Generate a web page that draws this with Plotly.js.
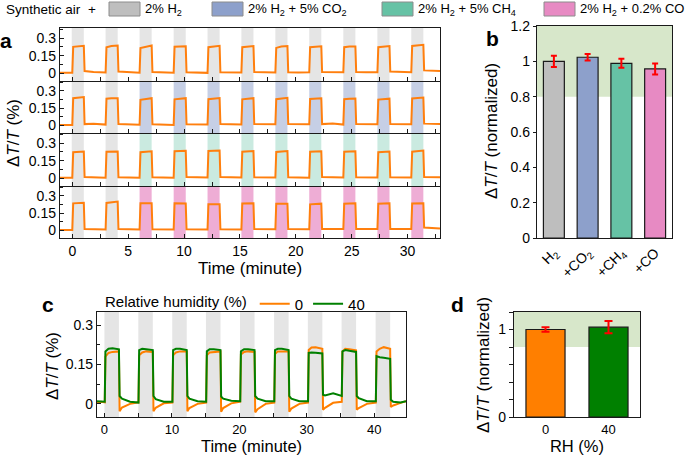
<!DOCTYPE html>
<html>
<head>
<meta charset="utf-8">
<script src="https://cdn.plot.ly/plotly-3.0.1.min.js"></script>
<style>
  html, body { margin:0; padding:0; background:#fff; }
  #fig { width:685px; height:455px; }
</style>
</head>
<body>
<div id="fig"></div>
<script>
/* gas sensor figure: pulse traces (a, c) + normalized response bars (b, d) */

const W = 685, H = 455;
const FONT = 'Liberation Sans, Arial, sans-serif';

// gases (legend + panel b)
const gasNames  = ['2% H<sub>2</sub>', '2% H<sub>2</sub> + 5% CO<sub>2</sub>',
                   '2% H<sub>2</sub> + 5% CH<sub>4</sub>', '2% H<sub>2</sub> + 0.2% CO'];
const gasColors = ['#bebebe', '#8da0cb', '#66c2a5', '#e78ac3'];
const bandFills = ['rgba(190,190,190,0.4)', 'rgba(141,160,203,0.5)',
                   'rgba(102,194,165,0.35)', 'rgba(231,138,195,0.7)'];

// panel b
const bLabels = ['H<sub>2</sub>', '+CO<sub>2</sub>', '+CH<sub>4</sub>', '+CO'];
const bValues = [1.0, 1.023, 0.989, 0.957];
const bErrors = [0.032, 0.018, 0.025, 0.031];

// panel d
const dLabels = ['0', '40'];
const dValues = [1.0, 1.026];
const dErrors = [0.025, 0.07];
const dColors = ['#ff7f00', '#008000'];

// panel a: gas exposure windows (minute)
const aPulseStart = [-0.05, 2.98, 6.02, 9.07, 12.10, 15.13, 18.17, 21.20, 24.25, 27.30, 30.33];
const aPulseWidth = 1.08;

// panel a: response traces, one per gas row
const aTime = [
  -1.1, -0.5,
  0.0, 0.08, 0.55, 1.03, 1.10, 1.9,
  2.98, 3.06, 3.5, 4.06, 4.13, 5.0,
  6.02, 6.10, 6.55, 7.10, 7.17, 8.0,
  9.07, 9.15, 9.6, 10.15, 10.22, 11.1,
  12.10, 12.18, 12.6, 13.18, 13.25, 14.1,
  15.13, 15.21, 15.7, 16.21, 16.28, 17.2,
  18.17, 18.25, 18.7, 19.25, 19.32, 20.2,
  21.20, 21.28, 21.7, 22.28, 22.35, 23.3,
  24.25, 24.33, 24.8, 25.33, 25.40, 26.3,
  27.30, 27.38, 27.8, 28.38, 28.45, 29.4,
  30.33, 30.41, 30.9, 31.41, 31.48, 32.3,
  32.9];
const aRow1 = [
  0.006, 0.005,
  0.005, 0.225, 0.232, 0.234, 0.02, 0.012,
  0.008, 0.222, 0.232, 0.236, 0.016, 0.01,
  0.006, 0.215, 0.226, 0.236, 0.012, 0.008,
  0.005, 0.226, 0.228, 0.229, 0.01, 0.008,
  0.004, 0.222, 0.228, 0.234, 0.01, 0.01,
  0.008, 0.222, 0.228, 0.232, 0.012, 0.01,
  0.008, 0.216, 0.228, 0.232, 0.01, 0.008,
  0.01, 0.222, 0.228, 0.23, 0.012, 0.01,
  0.01, 0.222, 0.228, 0.228, 0.012, 0.01,
  0.01, 0.222, 0.228, 0.232, 0.015, 0.012,
  0.01, 0.232, 0.238, 0.242, 0.025, 0.022,
  0.02];
const aRow2 = [
  0.005, 0.006,
  0.005, 0.236, 0.242, 0.246, 0.012, 0.015,
  0.008, 0.232, 0.236, 0.236, 0.012, 0.01,
  0.006, 0.222, 0.228, 0.236, 0.01, 0.008,
  0.004, 0.226, 0.232, 0.236, 0.01, 0.01,
  0.008, 0.228, 0.234, 0.238, 0.012, 0.01,
  0.008, 0.226, 0.232, 0.236, 0.012, 0.014,
  0.01, 0.228, 0.236, 0.24, 0.012, 0.012,
  0.01, 0.23, 0.234, 0.236, 0.012, 0.018,
  0.008, 0.228, 0.232, 0.234, 0.012, 0.01,
  0.01, 0.224, 0.23, 0.232, 0.012, 0.01,
  0.01, 0.234, 0.238, 0.242, 0.016, 0.014,
  0.012];
const aRow3 = [
  0.005, 0.005,
  0.005, 0.222, 0.226, 0.228, 0.012, 0.008,
  0.006, 0.226, 0.228, 0.228, 0.01, 0.008,
  0.005, 0.222, 0.228, 0.23, 0.01, 0.008,
  0.006, 0.23, 0.234, 0.234, 0.012, 0.01,
  0.008, 0.232, 0.234, 0.236, 0.012, 0.01,
  0.008, 0.226, 0.23, 0.232, 0.01, 0.01,
  0.008, 0.224, 0.228, 0.232, 0.01, 0.008,
  0.006, 0.226, 0.23, 0.23, 0.012, 0.01,
  0.008, 0.226, 0.23, 0.23, 0.01, 0.01,
  0.008, 0.222, 0.226, 0.228, 0.01, 0.008,
  0.008, 0.226, 0.232, 0.236, 0.012, 0.01,
  0.01];
const aRow4 = [
  0.005, 0.005,
  0.005, 0.235, 0.238, 0.24, 0.012, 0.01,
  0.008, 0.238, 0.244, 0.25, 0.012, 0.01,
  0.008, 0.236, 0.236, 0.236, 0.01, 0.01,
  0.008, 0.236, 0.236, 0.234, 0.01, 0.01,
  0.008, 0.226, 0.226, 0.226, 0.01, 0.01,
  0.008, 0.234, 0.236, 0.236, 0.012, 0.012,
  0.01, 0.232, 0.232, 0.232, 0.012, 0.012,
  0.01, 0.226, 0.23, 0.232, 0.012, 0.012,
  0.012, 0.232, 0.236, 0.236, 0.012, 0.012,
  0.012, 0.232, 0.234, 0.236, 0.012, 0.012,
  0.012, 0.234, 0.236, 0.236, 0.026, 0.022,
  0.018];

// panel c: H2 windows and traces at 0 % / 40 % RH
const cPulseStart = [0, 5.02, 10.05, 15.05, 20.1, 25.15, 30.15, 35.15, 40.2];
const cPulseWidth = 2.15;
const cTime = [
  -1.1, -0.5,
  0.05, 0.15, 0.6, 1.2, 2.15, 2.25, 2.6, 3.8,
  5.05, 5.15, 5.6, 6.2, 7.17, 7.27, 7.6, 8.8,
  10.08, 10.18, 10.6, 11.2, 12.2, 12.3, 12.6, 13.8,
  15.08, 15.18, 15.6, 16.2, 17.2, 17.3, 17.6, 18.8,
  20.13, 20.23, 20.7, 21.3, 22.25, 22.35, 22.7, 23.9,
  25.18, 25.28, 25.7, 26.3, 27.3, 27.4, 27.7, 28.9,
  30.18, 30.28, 30.7, 31.3, 32.3, 32.4, 32.7, 33.9,
  35.18, 35.28, 35.7, 36.3, 37.3, 37.4, 37.7, 38.9,
  40.23, 40.33, 40.8, 41.4, 42.35, 42.45, 42.8, 43.9,
  44.7];
const cRH0 = [
  0.005, 0.008,
  0.006, 0.18, 0.194, 0.198, 0.2, -0.028, -0.014, 0.0,
  0.006, 0.185, 0.196, 0.2, 0.198, -0.028, -0.015, 0.002,
  0.005, 0.185, 0.196, 0.2, 0.2, -0.028, -0.016, 0.0,
  0.005, 0.185, 0.196, 0.198, 0.2, -0.03, -0.016, 0.002,
  0.008, 0.188, 0.198, 0.2, 0.198, -0.032, -0.02, 0.0,
  0.005, 0.19, 0.2, 0.2, 0.2, -0.03, -0.018, 0.0,
  0.005, 0.205, 0.215, 0.216, 0.21, -0.022, -0.015, 0.004,
  0.008, 0.2, 0.21, 0.208, 0.204, -0.022, -0.016, 0.0,
  0.005, 0.2, 0.21, 0.216, 0.21, -0.012, -0.006, 0.004,
  0.01];
const cRH40 = [
  0.01, 0.008,
  0.008, 0.2, 0.21, 0.212, 0.208, 0.03, 0.02, 0.008,
  0.005, 0.205, 0.21, 0.208, 0.205, 0.03, 0.018, 0.008,
  0.008, 0.205, 0.21, 0.21, 0.205, 0.03, 0.02, 0.01,
  0.008, 0.2, 0.208, 0.208, 0.205, 0.028, 0.02, 0.012,
  0.01, 0.2, 0.208, 0.208, 0.205, 0.03, 0.02, 0.01,
  0.01, 0.205, 0.21, 0.21, 0.205, 0.03, 0.02, 0.01,
  0.01, 0.194, 0.196, 0.195, 0.192, 0.035, 0.032, 0.04,
  0.03, 0.2, 0.205, 0.202, 0.198, 0.03, 0.022, 0.01,
  0.01, 0.182, 0.178, 0.176, 0.172, 0.016, 0.008, 0.005,
  0.01];

const px = x => x / W;
const py = y => 1 - y / H;

const LINE = '#1a1a1a';
const axBase = { showline:true, linecolor:LINE, linewidth:1.2, mirror:true, showgrid:false,
                 zeroline:false, ticks:'inside', ticklen:4, tickcolor:LINE, tickwidth:1,
                 tickfont:{size:14}, fixedrange:true };
const TITLE = 17;

// ---- traces
const traces = [];
const aRows = [aRow1, aRow2, aRow3, aRow4];
aRows.forEach((row, i) => {
  const k = i === 0 ? '' : String(i + 1);
  traces.push({ x:aTime, y:row, type:'scatter', mode:'lines', xaxis:'x'+k, yaxis:'y'+k,
                line:{ color:'#ff7f0e', width:2 }, showlegend:false, hoverinfo:'skip' });
});

traces.push({ type:'bar', x:bLabels, y:bValues, xaxis:'x5', yaxis:'y5',
  marker:{ color:gasColors, line:{ color:LINE, width:1.2 } },
  error_y:{ type:'data', array:bErrors, color:'#ff0000', thickness:2, width:3 },
  showlegend:false });

traces.push({ x:cTime, y:cRH0, type:'scatter', mode:'lines', xaxis:'x6', yaxis:'y6',
  name:'0', line:{ color:'#ff7f00', width:2 } });
traces.push({ x:cTime, y:cRH40, type:'scatter', mode:'lines', xaxis:'x6', yaxis:'y6',
  name:'40', line:{ color:'#008000', width:2 } });

traces.push({ type:'bar', x:dLabels, y:dValues, xaxis:'x7', yaxis:'y7',
  marker:{ color:dColors, line:{ color:LINE, width:1.2 } },
  error_y:{ type:'data', array:dErrors, color:'#ff0000', thickness:2, width:4 },
  showlegend:false });

// ---- shapes: exposure bands, green tolerance zones, top legend swatches
const shapes = [];
aRows.forEach((row, r) => {
  const k = r === 0 ? '' : String(r + 1);
  aPulseStart.forEach((s, i) => {
    const g = (r === 0 || i < 2) ? 0 : r;
    shapes.push({ type:'rect', xref:'x'+k, yref:'y'+k+' domain', x0:s, x1:s + aPulseWidth,
                  y0:0, y1:1, fillcolor:bandFills[g], line:{ width:0 }, layer:'below' });
  });
});
cPulseStart.forEach(s => {
  shapes.push({ type:'rect', xref:'x6', yref:'y6 domain', x0:s, x1:s + cPulseWidth,
                y0:0, y1:1, fillcolor:bandFills[0], line:{ width:0 }, layer:'below' });
});
['5', '7'].forEach(k => {
  shapes.push({ type:'rect', xref:'x'+k+' domain', yref:'y'+k, x0:0, x1:1, y0:0.8, y1:1.2,
                fillcolor:'#d7e7ca', line:{ width:0 }, layer:'below' });
});

const legBoxX = [109, 212, 382, 544];
const legTextX = [143, 246, 416, 578];
legBoxX.forEach((x, i) => {
  shapes.push({ type:'rect', xref:'paper', yref:'paper', x0:px(x), x1:px(x + 31),
                y0:py(16), y1:py(2), fillcolor:gasColors[i], line:{ color:'#8c8c8c', width:1 } });
});

// ---- annotations
const ann = [];
const txt = (x, y, text, o) => ann.push(Object.assign({ xref:'paper', yref:'paper',
  x:px(x), y:py(y), text, showarrow:false, xanchor:'center', yanchor:'middle',
  font:{ size:13, color:'#000' } }, o || {}));

txt(4, 9, 'Synthetic air', { xanchor:'left', font:{ size:13.5 } });
txt(92, 9, '+', { font:{ size:13.5 } });
gasNames.forEach((g, i) => txt(legTextX[i], 9, g, { xanchor:'left' }));

const ttl = 'Δ<i>T</i>/<i>T</i>';
txt(13, 133, ttl + ' (%)', { textangle:-90, font:{ size:TITLE } });
txt(491, 131, ttl + ' (normalized)', { textangle:-90, font:{ size:TITLE } });
txt(52, 366, ttl + ' (%)', { textangle:-90, font:{ size:TITLE } });
txt(483, 365, ttl + ' (normalized)', { textangle:-90, font:{ size:TITLE } });

const bold = { font:{ size:21, color:'#000' } };
txt(6, 40, '<b>a</b>', bold);
txt(492, 38, '<b>b</b>', bold);
txt(48, 304, '<b>c</b>', bold);
txt(457, 304, '<b>d</b>', bold);

// ---- axes (row 1 draws its own top line; lower rows share the line above)
const aX = (k, first, last) => Object.assign({}, axBase, {
  domain:[px(60), px(440)], anchor:'y'+k, range:[-1.1, 32.9], tick0:0, dtick:5,
  mirror:first, minor:{ dtick:2.5, ticks:'inside', ticklen:4, tickcolor:LINE },
  showticklabels:last,
  title: last ? { text:'Time (minute)', font:{ size:TITLE }, standoff:3 } : undefined });
const aY = (k, top, bot) => Object.assign({}, axBase, {
  domain:[py(bot), py(top)], anchor:'x'+k, range:[-0.065, 0.385], tick0:0, dtick:0.15,
  minor:{ dtick:0.075, ticks:'inside', ticklen:3, tickcolor:LINE } });

const layout = {
  width:W, height:H, margin:{ l:0, r:0, t:0, b:0 },
  paper_bgcolor:'#fff', plot_bgcolor:'#fff',
  font:{ family:FONT, size:14, color:'#000' },
  bargap:0.38, showlegend:true,
  legend:{ orientation:'h', x:px(103), xanchor:'left', y:py(304), yanchor:'middle',
           title:{ text:'Relative humidity (%)', side:'left', font:{ size:15 } },
           font:{ size:15 }, bgcolor:'rgba(0,0,0,0)', itemwidth:30, tracegroupgap:0 },
  xaxis:aX('', true, false), xaxis2:aX('2', false, false),
  xaxis3:aX('3', false, false), xaxis4:aX('4', false, true),
  yaxis:aY('', 28, 81), yaxis2:aY('2', 81, 133), yaxis3:aY('3', 133, 186), yaxis4:aY('4', 186, 238),
  xaxis5:Object.assign({}, axBase, { domain:[px(537), px(672)], anchor:'y5', type:'category',
           range:[-0.5, 3.5], ticks:'', tickangle:-45 }),
  yaxis5:Object.assign({}, axBase, { domain:[py(238), py(26)], anchor:'x5', range:[0, 1.2],
           dtick:0.2, ticks:'outside', ticklen:3 }),
  xaxis6:Object.assign({}, axBase, { domain:[px(97), px(406)], anchor:'y6', range:[-1.1, 44.7],
           tick0:0, dtick:10, tickfont:{ size:13 },
           minor:{ dtick:5, ticks:'inside', ticklen:4, tickcolor:LINE },
           title:{ text:'Time (minute)', font:{ size:16.5 }, standoff:3 } }),
  yaxis6:Object.assign({}, axBase, { domain:[py(417), py(312)], anchor:'x6', range:[-0.05, 0.35],
           tick0:0, dtick:0.15, minor:{ dtick:0.075, ticks:'inside', ticklen:3, tickcolor:LINE } }),
  xaxis7:Object.assign({}, axBase, { domain:[px(514), px(640)], anchor:'y7', type:'category',
           range:[-0.5, 1.5], ticks:'', tickfont:{ size:13 },
           title:{ text:'RH (%)', font:{ size:16.5 }, standoff:3 } }),
  yaxis7:Object.assign({}, axBase, { domain:[py(417), py(312)], anchor:'x7', range:[0, 1.2],
           tick0:0, dtick:1, ticks:'outside', ticklen:4,
           minor:{ dtick:0.2, ticks:'outside', ticklen:4, tickcolor:LINE } }),
  shapes, annotations:ann,
};

Plotly.newPlot('fig', traces, layout, { displayModeBar:false, staticPlot:true });
</script>
</body>
</html>
